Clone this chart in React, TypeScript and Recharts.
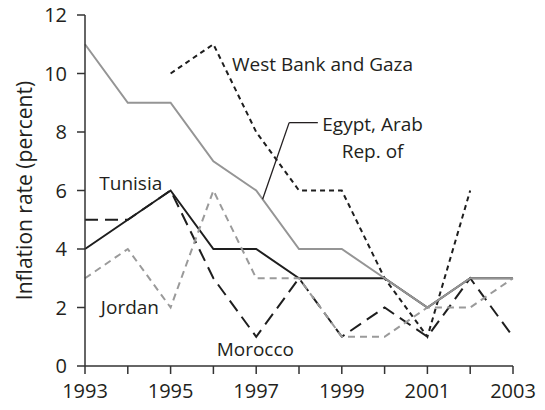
import React from 'react';
import { LineChart, Line, XAxis, YAxis, ReferenceDot, ReferenceLine } from 'recharts';

const years = [1993, 1994, 1995, 1996, 1997, 1998, 1999, 2000, 2001, 2002, 2003];
const egypt = [11, 9, 9, 7, 6, 4, 4, 3, 2, 3, 3];
const tunisia = [4, 5, 6, 4, 4, 3, 3, 3, 2, 3, 3];
const morocco = [5, 5, 6, 3, 1, 3, 1, 2, 1, 3, 1];
const jordan = [3, 4, 2, 6, 3, 3, 1, 1, 2, 2, 3];
const westBank = [null, null, 10, 11, 8, 6, 6, 3, 1, 6, null];
const yTicks = [0, 2, 4, 6, 8, 10, 12];
const xLabelYears = [1993, 1995, 1997, 1999, 2001, 2003];

const seriesLabels = [
  { text: 'West Bank and Gaza', x: 1998.55, y: 10.33 },
  { text: 'Egypt, Arab', x: 1999.72, y: 8.27 },
  { text: 'Rep. of', x: 1999.72, y: 7.35 },
  { text: 'Tunisia', x: 1994.07, y: 6.26 },
  { text: 'Jordan', x: 1994.05, y: 2.02 },
  { text: 'Morocco', x: 1996.98, y: 0.58 },
];

const leader = [
  { x: 1997.15, y: 5.7 },
  { x: 1997.77, y: 8.32 },
  { x: 1998.44, y: 8.32 },
];

const data = years.map((year, i) => ({
  year,
  egypt: egypt[i],
  tunisia: tunisia[i],
  morocco: morocco[i],
  jordan: jordan[i],
  westBank: westBank[i],
}));

const FONT = "'Open Sans', sans-serif";
const TEXT = '#231f20';
const AXIS = '#333';

const YLabel = (props: any) => {
  const vb = props.viewBox || { x: 0, y: 15, width: 85, height: 351 };
  const cx = vb.x + 24;
  const cy = vb.y + vb.height / 2;
  return (
    <text
      x={cx}
      y={cy}
      transform={`rotate(-90, ${cx}, ${cy})`}
      textAnchor="middle"
      dominantBaseline="central"
      fontSize={21}
      fontFamily={FONT}
      fill={TEXT}
    >
      Inflation rate (percent)
    </text>
  );
};

export default function App() {
  return (
    <div style={{ position: 'absolute', left: 0, top: 0, width: 545, height: 410, background: '#fff' }}>
      <LineChart width={545} height={410} data={data} margin={{ top: 15, right: 32, bottom: 0, left: 0 }}>
        <XAxis
          dataKey="year"
          type="number"
          domain={[1993, 2003]}
          ticks={years}
          interval={0}
          tickFormatter={(v: number) => (xLabelYears.includes(v) ? String(v) : '')}
          height={44}
          tickSize={8}
          tickMargin={10}
          axisLine={{ stroke: AXIS, strokeWidth: 1.5 }}
          tickLine={{ stroke: AXIS, strokeWidth: 1.5 }}
          tick={{ fill: TEXT, fontSize: 20, fontFamily: FONT }}
        />
        <YAxis
          type="number"
          domain={[0, 12]}
          ticks={yTicks}
          interval={0}
          width={85}
          tickSize={8}
          tickMargin={10}
          axisLine={{ stroke: AXIS, strokeWidth: 1.5 }}
          tickLine={{ stroke: AXIS, strokeWidth: 1.5 }}
          tick={{ fill: TEXT, fontSize: 20, fontFamily: FONT }}
          label={{ content: YLabel } as any}
        />
        <Line dataKey="tunisia" stroke="#1e1e1e" strokeWidth={2} dot={false} activeDot={false} isAnimationActive={false} />
        <Line dataKey="morocco" stroke="#1e1e1e" strokeWidth={2} strokeDasharray="13 7" dot={false} activeDot={false} isAnimationActive={false} />
        <Line dataKey="westBank" stroke="#1e1e1e" strokeWidth={2} strokeDasharray="5 4" dot={false} activeDot={false} isAnimationActive={false} />
        <Line dataKey="jordan" stroke="#9a9a9a" strokeWidth={2} strokeDasharray="7 5" dot={false} activeDot={false} isAnimationActive={false} />
        <Line dataKey="egypt" stroke="#959595" strokeWidth={2} dot={false} activeDot={false} isAnimationActive={false} />
        <ReferenceLine segment={[leader[0], leader[1]]} stroke="#231f20" strokeWidth={1.3} />
        <ReferenceLine segment={[leader[1], leader[2]]} stroke="#231f20" strokeWidth={1.3} />
        {seriesLabels.map((l) => (
          <ReferenceDot
            key={l.text}
            x={l.x}
            y={l.y}
            r={1}
            fill="none"
            stroke="none"
            label={{ value: l.text, position: 'center', fill: TEXT, fontSize: 19, fontFamily: FONT } as any}
          />
        ))}
      </LineChart>
    </div>
  );
}
